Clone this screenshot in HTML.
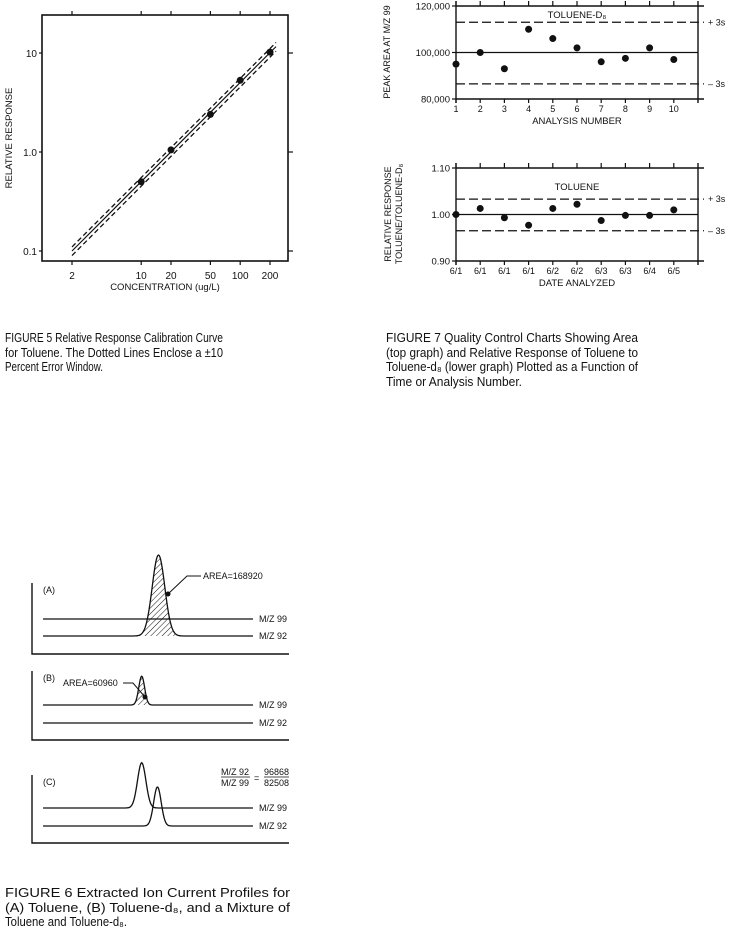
<!DOCTYPE html>
<html><head><meta charset="utf-8"><style>
html,body{margin:0;padding:0;background:#fff;}
svg{display:block;font-family:"Liberation Sans",sans-serif;}
text{fill:#111;}
</style></head><body>
<svg id="page" width="733" height="935" viewBox="0 0 733 935" xmlns="http://www.w3.org/2000/svg">
<g id="fig5"></g>
<g id="fig7"></g>
<g id="fig6"></g>
<g font-size="12.5">
<text x="5" y="342" textLength="218" lengthAdjust="spacingAndGlyphs">FIGURE 5   Relative Response Calibration Curve</text>
<text x="5" y="357" textLength="218" lengthAdjust="spacingAndGlyphs">for Toluene. The Dotted Lines Enclose a ±10</text>
<text x="5" y="371" textLength="98" lengthAdjust="spacingAndGlyphs">Percent Error Window.</text>
</g>
<g font-size="12.5">
<text x="386" y="342" textLength="252" lengthAdjust="spacingAndGlyphs">FIGURE 7   Quality Control Charts Showing Area</text>
<text x="386" y="357" textLength="252" lengthAdjust="spacingAndGlyphs">(top graph) and Relative Response of Toluene to</text>
<text x="386" y="371" textLength="252" lengthAdjust="spacingAndGlyphs">Toluene-d₈ (lower graph) Plotted as a Function of</text>
<text x="386" y="386" textLength="136" lengthAdjust="spacingAndGlyphs">Time or Analysis Number.</text>
</g>
<g font-size="12.5">
<text x="5" y="897" textLength="285" lengthAdjust="spacingAndGlyphs">FIGURE 6   Extracted Ion Current Profiles for</text>
<text x="5" y="912" textLength="285" lengthAdjust="spacingAndGlyphs">(A) Toluene, (B) Toluene-d₈, and a Mixture of</text>
<text x="5" y="926" textLength="122" lengthAdjust="spacingAndGlyphs">Toluene and Toluene-d₈.</text>
</g>
</svg>
<script>
// ---- Figure 5 data ----
const f5Conc = [10, 20, 50, 100, 200];
const f5Resp = [0.5, 1.05, 2.4, 5.3, 10.2];
const f5XTicks = [2, 10, 20, 50, 100, 200];
const f5YTicks = [0.1, 1.0, 10];
const f5YTickLabels = ["0.1", "1.0", "10"];
const f5LineStart = [2, 0.1];
const f5LineEnd = [230, 11.6];
const f5ErrPct = 10;
// ---- Figure 7 data ----
const f7TopValues = [95000, 100000, 93000, 110000, 106000, 102000, 96000, 97500, 102000, 97000];
const f7TopMean = 100000, f7TopPlus = 113000, f7TopMinus = 86500;
const f7TopYTicks = [80000, 100000, 120000];
const f7TopYLabels = ["80,000", "100,000", "120,000"];
const f7XLabelsTop = ["1","2","3","4","5","6","7","8","9","10"];
const f7BotValues = [1.000, 1.013, 0.993, 0.977, 1.013, 1.022, 0.987, 0.998, 0.998, 1.010];
const f7BotMean = 1.00, f7BotPlus = 1.033, f7BotMinus = 0.965;
const f7BotYTicks = [0.90, 1.00, 1.10];
const f7BotYLabels = ["0.90", "1.00", "1.10"];
const f7XLabelsBot = ["6/1","6/1","6/1","6/1","6/2","6/2","6/3","6/3","6/4","6/5"];
// ---- Figure 6 data ----
const f6PeakA = {center: 0.55, height: 1.0, width: 0.030};
const f6PeakB = {center: 0.47, height: 0.40, width: 0.014};
const f6PeakC99 = {center: 0.47, height: 0.62, width: 0.020};
const f6PeakC92 = {center: 0.545, height: 0.55, width: 0.018};

const NS = "http://www.w3.org/2000/svg";
function el(parent, tag, attrs, txt){
  const e = document.createElementNS(NS, tag);
  for (const k in attrs) e.setAttribute(k, attrs[k]);
  if (txt !== undefined) e.textContent = txt;
  parent.appendChild(e); return e;
}

// ===== Figure 5 =====
(function(){
  const g = document.getElementById('fig5');
  const L=42,R=288,T=15,B=261;
  const x = v => 72 + (Math.log10(v) - Math.log10(2)) * 99;
  const y = v => 152 - Math.log10(v) * 99;
  const frame = el(g,'rect',{x:L,y:T,width:R-L,height:B-T,fill:'none',stroke:'#111','stroke-width':1.6});
  
  
  f5XTicks.forEach(t=>{
    const a=el(g,'line',{x1:x(t),x2:x(t),y1:B,y2:B+4,stroke:'#111','stroke-width':1.2});
    
    
    el(g,'line',{x1:x(t),x2:x(t),y1:T-4,y2:T,stroke:'#111','stroke-width':1.2});
    const lb=el(g,'text',{x:x(t),y:279,'font-size':10,'text-anchor':'middle'},String(t));
    
    
  });
  f5YTicks.forEach((t,i)=>{
    el(g,'line',{x1:R,x2:R+5,y1:y(t),y2:y(t),stroke:'#111','stroke-width':1.2});
    el(g,'line',{x1:L-3,x2:L,y1:y(t),y2:y(t),stroke:'#111','stroke-width':1.2});
    const lb=el(g,'text',{x:37,y:y(t)+4,'font-size':10,'text-anchor':'end'},f5YTickLabels[i]);
    
    
  });
  const xt=el(g,'text',{x:165,y:290,'font-size':9.5,'text-anchor':'middle'},'CONCENTRATION (ug/L)');
  
  
  const yt=el(g,'text',{x:0,y:0,'font-size':9.5,'text-anchor':'middle',transform:'translate(12,138) rotate(-90)'},'RELATIVE RESPONSE');
  
  
  const [x0,y0]=f5LineStart,[x1,y1]=f5LineEnd;
  const fit=el(g,'line',{x1:x(x0),y1:y(y0),x2:x(x1),y2:y(y1),stroke:'#111','stroke-width':1.2});
  
  
  [1+f5ErrPct/100, 1-f5ErrPct/100].forEach(f=>{
    const d=el(g,'line',{x1:x(x0),y1:y(y0*f),x2:x(x1),y2:y(y1*f),stroke:'#111','stroke-width':1.3,'stroke-dasharray':'5,3'});
    
    
  });
  f5Conc.forEach((c,i)=>{
    const p=el(g,'circle',{cx:x(c),cy:y(f5Resp[i]),r:3.5,fill:'#111'});
    
    
  });
})();

// ===== Figure 7 =====
function qcChart(g, opt){
  const L=456,R=698,T=opt.T,B=opt.B;
  const x = i => 456 + i*24.2;
  const y = v => B - (v-opt.min)/(opt.max-opt.min)*(B-T);
  el(g,'line',{x1:L,x2:R+6,y1:T,y2:T,stroke:'#111','stroke-width':1.4});
  el(g,'line',{x1:L,x2:R+6,y1:B,y2:B,stroke:'#111','stroke-width':1.4});
  el(g,'line',{x1:L,x2:L,y1:T-5,y2:B+4,stroke:'#111','stroke-width':1.4});
  el(g,'line',{x1:R,x2:R,y1:T-5,y2:B+4,stroke:'#111','stroke-width':1.4});
  for(let i=0;i<opt.labels.length;i++){
    el(g,'line',{x1:x(i),x2:x(i),y1:T-5,y2:T,stroke:'#111','stroke-width':1.2});
    el(g,'line',{x1:x(i),x2:x(i),y1:B,y2:B+4,stroke:'#111','stroke-width':1.2});
    const lb=el(g,'text',{x:x(i),y:B+13,'font-size':9,'text-anchor':'middle'},opt.labels[i]);
    
    
  }
  opt.yticks.forEach((t,i)=>{
    el(g,'line',{x1:L-4,x2:L,y1:y(t),y2:y(t),stroke:'#111','stroke-width':1.2});
    const lb=el(g,'text',{x:L-6,y:y(t)+3.5,'font-size':9.5,'text-anchor':'end'},opt.ylabels[i]);
    
    
  });
  const m=el(g,'line',{x1:L,x2:R,y1:y(opt.mean),y2:y(opt.mean),stroke:'#111','stroke-width':1.3});
  
  
  const p=el(g,'line',{x1:L,x2:R+6,y1:y(opt.plus),y2:y(opt.plus),stroke:'#111','stroke-width':1.2,'stroke-dasharray':'9,4'});
  
  
  const n=el(g,'line',{x1:L,x2:R+6,y1:y(opt.minus),y2:y(opt.minus),stroke:'#111','stroke-width':1.2,'stroke-dasharray':'9,4'});
  
  
  const pl=el(g,'text',{x:708,y:y(opt.plus)+3,'font-size':9},'+ 3s');
  
  
  const nl=el(g,'text',{x:708,y:y(opt.minus)+3,'font-size':9},'– 3s');
  
  
  opt.values.forEach((v,i)=>{
    const c=el(g,'circle',{cx:x(i),cy:y(v),r:3.5,fill:'#111'});
    
    
  });
  const xt=el(g,'text',{x:577,y:B+25,'font-size':9.5,'text-anchor':'middle'},opt.xtitle);
  
  
  return y;
}
(function(){
  const g = document.getElementById('fig7');
  const gt = el(g,'g',{});
  
  
  qcChart(gt,{T:6,B:99,min:80000,max:120000,values:f7TopValues,mean:f7TopMean,plus:f7TopPlus,minus:f7TopMinus,yticks:f7TopYTicks,ylabels:f7TopYLabels,labels:f7XLabelsTop,xtitle:'ANALYSIS NUMBER'});
  const t1=el(gt,'text',{x:577,y:18,'font-size':9.5,'text-anchor':'middle'},'TOLUENE-D₈');
  
  
  const y1=el(gt,'text',{'font-size':9,'text-anchor':'middle',transform:'translate(390,52) rotate(-90)'},'PEAK AREA AT M/Z 99');
  
  

  const gb = el(g,'g',{});
  
  
  qcChart(gb,{T:168,B:261,min:0.90,max:1.10,values:f7BotValues,mean:f7BotMean,plus:f7BotPlus,minus:f7BotMinus,yticks:f7BotYTicks,ylabels:f7BotYLabels,labels:f7XLabelsBot,xtitle:'DATE ANALYZED'});
  const t2=el(gb,'text',{x:577,y:190,'font-size':9.5,'text-anchor':'middle'},'TOLUENE');
  
  
  const y2=el(gb,'text',{'font-size':9,'text-anchor':'middle',transform:'translate(391,214) rotate(-90)'},'RELATIVE RESPONSE');
  
  
  const y3=el(gb,'text',{'font-size':9,'text-anchor':'middle',transform:'translate(402,214) rotate(-90)'},'TOLUENE/TOLUENE-D₈');
  
  
})();

// ===== Figure 6 =====
(function(){
  const g = document.getElementById('fig6');
  const defs = el(g,'defs',{});
  const pat = el(defs,'pattern',{id:'hatch',width:4,height:4,patternUnits:'userSpaceOnUse',patternTransform:'rotate(45)'});
  el(pat,'line',{x1:0,y1:0,x2:0,y2:4,stroke:'#111','stroke-width':1});
  const X0=43, X1=253;
  const px = f => X0 + f*(X1-X0);
  function trace(base, peak, maxH, hatch){
    let d='';
    for(let i=0;i<=300;i++){
      const f=i/300; let v=0;
      if(peak){ const z=(f-peak.center)/peak.width; v=peak.height*maxH*Math.exp(-z*z/2); }
      d += (i?'L':'M')+px(f).toFixed(1)+','+(base-v).toFixed(1);
    }
    if(hatch){
      const a=el(g,'path',{d:d+'Z',fill:'url(#hatch)',stroke:'none'});
      
      
    }
    const p=el(g,'path',{d:d,fill:'none',stroke:'#111','stroke-width':1.3});
    
    
  }
  function panel(top,bottom,label,b99,b92){
    const ax=el(g,'path',{d:`M32,${top} L32,${bottom} L289,${bottom}`,fill:'none',stroke:'#111','stroke-width':1.4});
    
    
    const t=el(g,'text',{x:43,y:top+10,'font-size':9},label);
    
    
    const a=el(g,'text',{x:259,y:b99+3,'font-size':9},'M/Z 99');
    
    
    const b=el(g,'text',{x:259,y:b92+3,'font-size':9},'M/Z 92');
    
    
  }
  panel(583,654,'(A)',619,636);
  trace(619,null,0,false);
  trace(636,f6PeakA,81,true);
  el(g,'path',{d:'M168,594 L187,576 L201,576',fill:'none',stroke:'#111','stroke-width':1});
  el(g,'circle',{cx:168,cy:594,r:2.5,fill:'#111'});
  const la=el(g,'text',{x:203,y:579,'font-size':9},'AREA=168920');
  
  
  panel(671,740,'(B)',705,723);
  trace(705,f6PeakB,72,true);
  trace(723,null,0,false);
  el(g,'path',{d:'M145,697 L133,683 L123,683',fill:'none',stroke:'#111','stroke-width':1});
  el(g,'circle',{cx:145,cy:697,r:2.5,fill:'#111'});
  const lb=el(g,'text',{x:63,y:686,'font-size':9},'AREA=60960');
  
  
  panel(775,843,'(C)',808,826);
  trace(808,f6PeakC99,73,false);
  trace(826,f6PeakC92,71,false);
  const r=el(g,'g',{'font-size':9});
  
  
  el(r,'text',{x:221,y:775},'M/Z 92');
  el(r,'line',{x1:221,x2:250,y1:777,y2:777,stroke:'#111','stroke-width':0.8});
  el(r,'text',{x:221,y:786},'M/Z 99');
  el(r,'text',{x:254,y:781},'=');
  el(r,'text',{x:264,y:775},'96868');
  el(r,'line',{x1:264,x2:289,y1:777,y2:777,stroke:'#111','stroke-width':0.8});
  el(r,'text',{x:264,y:786},'82508');
})();
</script>
</body></html>
